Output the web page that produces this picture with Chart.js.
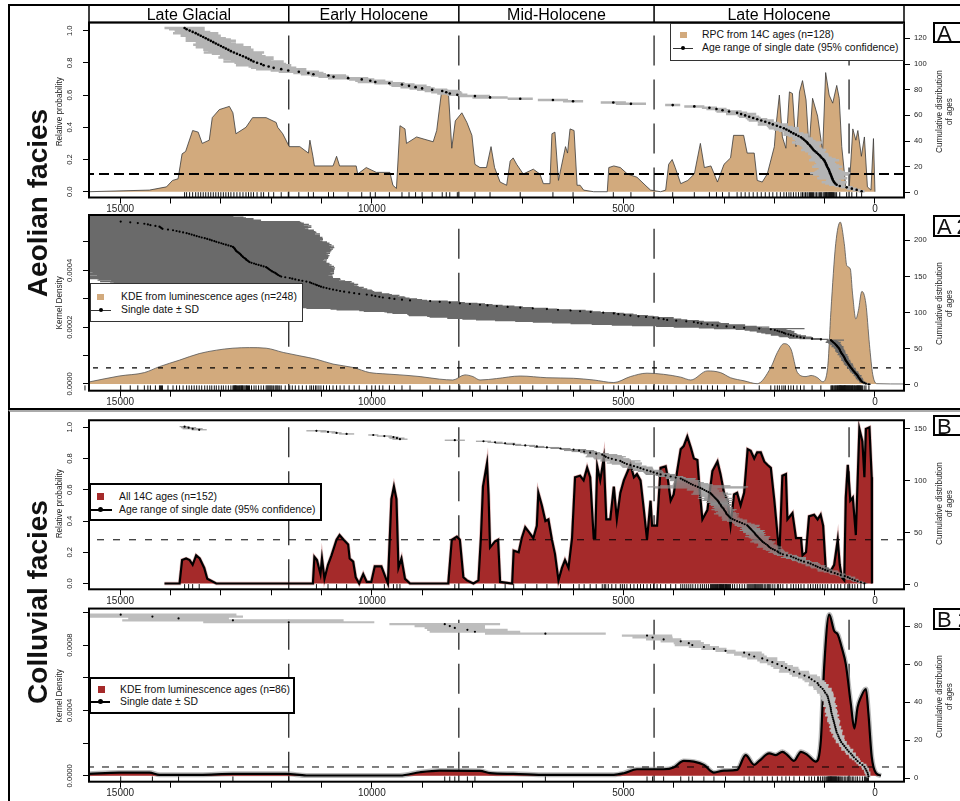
<!DOCTYPE html>
<html>
<head>
<meta charset="utf-8">
<title>Aeolian and colluvial facies - age distributions</title>
<script src="https://cdn.jsdelivr.net/npm/chart.js@4.4.1/dist/chart.umd.min.js"></script>
<style>
  body { margin: 0; background: #fff; }
  #page { position: relative; width: 960px; height: 801px; overflow: hidden;
          font-family: 'Liberation Sans', Arial, Helvetica, sans-serif; color: #111; }
  #page canvas { position: absolute; left: 0; }
  .frame { position: absolute; left: 8px; width: 990px; box-sizing: border-box; border: 2.5px solid #000; }
  .facies { position: absolute; width: 260px; height: 32px; line-height: 32px; text-align: center;
            font-weight: bold; font-size: 28px; transform: rotate(-90deg); white-space: nowrap; }
  .ytitle { position: absolute; width: 140px; text-align: center; font-size: 8.2px; line-height: 9.5px;
            transform: rotate(-90deg); white-space: nowrap; color: #222; }
  .tag { position: absolute; left: 933px; width: 60px; height: 21.5px; box-sizing: border-box;
         border: 2px solid #000; background: #fff; font-size: 22px; line-height: 19.5px; padding-left: 2px; white-space: nowrap; }
  .lgbox { position: absolute; box-sizing: border-box; background: #fff; }
  .lgtext { position: absolute; font-size: 10.4px; line-height: 12px; white-space: nowrap; color: #111; }
  .lgsq { position: absolute; width: 6.5px; height: 6.5px; }
  .lgline { position: absolute; height: 0; }
  .lgdot { position: absolute; border-radius: 50%; background: #000; }
</style>
</head>
<body>
<div id="page">
  <div class="frame" style="top:4px;height:405.5px"></div>
  <div class="frame" style="top:410px;height:420px;border-top:2px solid #aaa"></div>

  <canvas id="panelA" width="960" height="215" style="top:0px"></canvas>
  <canvas id="panelA2" width="960" height="205" style="top:205px"></canvas>
  <canvas id="panelB" width="960" height="200" style="top:408px"></canvas>
  <canvas id="panelB2" width="960" height="201" style="top:600px"></canvas>

  <div class="facies" style="left:-92.5px;top:187.3px">Aeolian facies</div>
  <div class="facies" style="left:-92.5px;top:585.5px">Colluvial facies</div>

  <div class="ytitle" style="left:-10px;top:106.8px">Relative probability</div>
  <div class="ytitle" style="left:-10px;top:298.3px">Kernel Density</div>
  <div class="ytitle" style="left:-10px;top:498.8px">Relative probability</div>
  <div class="ytitle" style="left:-10px;top:691.3px">Kernel Density</div>

  <div class="ytitle" style="left:873.5px;top:102px">Cumulative distribution<br>of ages</div>
  <div class="ytitle" style="left:873.5px;top:293.5px">Cumulative distribution<br>of ages</div>
  <div class="ytitle" style="left:873.5px;top:494px">Cumulative distribution<br>of ages</div>
  <div class="ytitle" style="left:873.5px;top:686.5px">Cumulative distribution<br>of ages</div>

  <div class="tag" style="top:21.7px">A</div>
  <div class="tag" style="top:215px">A 2</div>
  <div class="tag" style="top:414.5px">B</div>
  <div class="tag" style="top:608px">B 2</div>

  <!-- legend A -->
  <div class="lgbox" style="left:670px;top:23px;width:234px;height:37.5px;border:1px solid #333"></div>
  <div class="lgsq" style="left:680px;top:31.8px;background:#D2AA7D"></div>
  <div class="lgtext" style="left:702px;top:29.3px">RPC from 14C ages (n=128)</div>
  <div class="lgline" style="left:673px;top:47.5px;width:20px;border-top:1px solid #333"></div>
  <div class="lgdot" style="left:681px;top:46px;width:4px;height:4px"></div>
  <div class="lgtext" style="left:702px;top:42.3px">Age range of single date (95% confidence)</div>

  <!-- legend A2 -->
  <div class="lgbox" style="left:90px;top:283.3px;width:213px;height:38.5px;border:1px solid #333"></div>
  <div class="lgsq" style="left:97px;top:293.5px;background:#D2AA7D"></div>
  <div class="lgtext" style="left:121px;top:291px">KDE from luminescence ages (n=248)</div>
  <div class="lgline" style="left:91px;top:309.5px;width:20px;border-top:1px solid #333"></div>
  <div class="lgdot" style="left:99px;top:308px;width:4px;height:4px"></div>
  <div class="lgtext" style="left:121px;top:304.3px">Single date ± SD</div>

  <!-- legend B -->
  <div class="lgbox" style="left:89px;top:482.7px;width:233px;height:38.5px;border:2px solid #000"></div>
  <div class="lgsq" style="left:97px;top:493.3px;background:#A52A2A"></div>
  <div class="lgtext" style="left:119px;top:491px">All 14C ages (n=152)</div>
  <div class="lgline" style="left:89px;top:508.5px;width:23px;border-top:2px solid #000"></div>
  <div class="lgdot" style="left:97.5px;top:507px;width:5px;height:5px"></div>
  <div class="lgtext" style="left:119px;top:504.3px">Age range of single date (95% confidence)</div>

  <!-- legend B2 -->
  <div class="lgbox" style="left:89px;top:676.7px;width:206px;height:37.5px;border:2px solid #000"></div>
  <div class="lgsq" style="left:98px;top:686px;background:#A52A2A"></div>
  <div class="lgtext" style="left:120px;top:684.3px">KDE from luminescence ages (n=86)</div>
  <div class="lgline" style="left:89px;top:700.5px;width:21px;border-top:2px solid #000"></div>
  <div class="lgdot" style="left:97.5px;top:699px;width:5px;height:5px"></div>
  <div class="lgtext" style="left:120px;top:696px">Single date ± SD</div>
</div>

<script>
Chart.defaults.font.family = "'Liberation Sans', Arial, Helvetica, sans-serif";
Chart.defaults.color = '#222';

// x axis: years before present, drawn old (left) to young (right)
const xMin = -577, xMax = 15620;

const periodNames = ['Late Glacial', 'Early Holocene', 'Mid-Holocene', 'Late Holocene'];
const periodBounds = [11650, 8270, 4390];
const lateMarker = 515;

// A: summed 14C probability, aeolian
const rpcAge = [15620, 14420, 14080, 13960, 13850, 13770, 13700, 13560, 13450, 13370, 13230, 13170, 13030, 12830,
  12760, 12700, 12500, 12370, 12100, 11900, 11870, 11770, 11640, 11430, 11260, 11230, 11170, 11140, 10770, 10700,
  10640, 10310, 10280, 10110, 9910, 9640, 9580, 9510, 9440, 9340, 9310, 9110, 8780, 8710, 8610, 8480, 8410, 8340,
  8210, 8110, 8010, 7950, 7850, 7720, 7630, 7560, 7450, 7320, 7250, 7190, 7120, 6990, 6790, 6660, 6590, 6460, 6420,
  6360, 6290, 6150, 6110, 6060, 5980, 5920, 5860, 5790, 5590, 5320, 5290, 5190, 5060, 4920, 4730, 4530, 4460, 4260,
  4160, 4100, 4030, 3970, 3860, 3720, 3590, 3470, 3390, 3260, 3130, 3000, 2870, 2810, 2610, 2540, 2400, 2340, 2240,
  2140, 2000, 1970, 1900, 1840, 1770, 1700, 1640, 1570, 1500, 1440, 1370, 1310, 1240, 1140, 1040, 980, 910, 840,
  760, 710, 660, 580, 510, 440, 380, 340, 270, 210, 150, 80, 30, 0];
const rpcProb = [0, 0.01, 0.03, 0.07, 0.08, 0.235, 0.25, 0.38, 0.37, 0.30, 0.32, 0.46, 0.51, 0.53,
  0.49, 0.36, 0.40, 0.46, 0.46, 0.43, 0.40, 0.36, 0.28, 0.28, 0.24, 0.32, 0.22, 0.16, 0.16, 0.22,
  0.16, 0.16, 0.11, 0.15, 0.12, 0.12, 0.04, 0.02, 0.41, 0.39, 0.30, 0.34, 0.31, 0.38, 0.63, 0.63, 0.27, 0.44,
  0.49, 0.43, 0.35, 0.17, 0.15, 0.15, 0.28, 0.15, 0.06, 0.04, 0.19, 0.21, 0.17, 0.11, 0.14, 0.11, 0.05, 0.05, 0.36,
  0.37, 0.07, 0.28, 0.24, 0.39, 0.38, 0.04, 0.04, 0.01, 0, 0, 0.15, 0.16, 0.15, 0.11, 0.09, 0.03, 0.01, 0,
  0.01, 0.17, 0.20, 0.15, 0.05, 0.07, 0.11, 0.30, 0.15, 0.16, 0.06, 0.17, 0.21, 0.35, 0.35, 0.24, 0.24, 0.07, 0.06,
  0.11, 0.28, 0.40, 0.60, 0.34, 0.27, 0.62, 0.61, 0.28, 0.62, 0.69, 0.57, 0.27, 0.58, 0.47, 0.25, 0.74, 0.60, 0.55,
  0.66, 0.58, 0.28, 0.03, 0.03, 0.39, 0.32, 0.38, 0.22, 0.34, 0.03, 0.01, 0.33, 0];

// A: single 14C dates, youngest first, with 95% half range
const aDates = [265, 364, 460, 563, 700, 762, 790, 810, 825, 840, 850, 860, 870, 880, 890, 900, 910, 920, 935, 950,
  960, 970, 980, 995, 1010, 1030, 1060, 1080, 1100, 1130, 1160, 1190, 1220, 1240, 1260, 1280, 1300, 1330, 1350, 1380,
  1410, 1440, 1470, 1520, 1570, 1620, 1670, 1710, 1760, 1810, 1880, 1950, 2030, 2100, 2180, 2260, 2340, 2420, 2500, 2580,
  2660, 2740, 2900, 3030, 3150, 3290, 3590, 4020, 4850, 5200, 6000, 6400, 7050, 7650, 7950, 8300, 8450, 8520, 8600, 8800,
  9000, 9130, 9260, 9400, 9650, 9930, 10030, 10200, 10470, 10760, 10860, 11160, 11260, 11450, 11660, 11800, 11950, 12050, 12150, 12200,
  12280, 12350, 12400, 12450, 12500, 12560, 12620, 12680, 12740, 12800, 12850, 12900, 12950, 13000, 13050, 13100, 13150, 13200, 13250, 13300,
  13350, 13400, 13450, 13500, 13560, 13620, 13680, 13720];
const aErr = [60, 80, 100, 120, 100, 150, 200, 250, 150, 120, 300, 250, 200, 350, 400, 300, 250, 200, 150, 300,
  250, 200, 150, 200, 300, 250, 200, 150, 180, 200, 150, 200, 250, 200, 150, 180, 200, 250, 300, 200,
  180, 200, 150, 200, 250, 200, 150, 200, 250, 300, 250, 200, 300, 200, 150, 250, 200, 150, 200, 150,
  300, 200, 250, 150, 200, 150, 200, 150, 300, 250, 200, 300, 250, 350, 300, 200, 250, 300, 350, 300,
  250, 300, 350, 250, 300, 350, 300, 250, 400, 300, 350, 250, 300, 400, 350, 500, 450, 400, 550, 500,
  450, 600, 400, 500, 550, 450, 400, 500, 600, 450, 500, 400, 550, 450, 500, 400, 350, 500, 450, 400,
  350, 400, 300, 450, 350, 300, 350, 400];

// A2: kernel density of luminescence ages, aeolian (units of 1e-4 per year)
const kdeA2Age = [15620, 15020, 14520, 14220, 13820, 13430, 13090, 12760, 12430, 12100, 11760, 11430, 11100, 10770,
  10370, 10040, 9780, 9440, 9040, 8650, 8390, 8150, 7990, 7850, 7520, 7050, 6520, 5990, 5590, 5190, 4860, 4530, 4200,
  3860, 3660, 3330, 3070, 2870, 2600, 2340, 2070, 1940, 1810, 1670, 1540, 1370, 1270, 1140, 1040, 940, 875, 780, 690,
  610, 560, 490, 445, 380, 330, 260, 180, 110, 45, -40, -577];
const kdeA2Dens = [0.07, 0.28, 0.40, 0.61, 0.84, 1.07, 1.19, 1.26, 1.28, 1.26, 1.11, 0.99, 0.87, 0.70,
  0.58, 0.40, 0.36, 0.32, 0.26, 0.17, 0.14, 0.32, 0.26, 0.14, 0.19, 0.28, 0.22, 0.20, 0.14, 0.05, 0.26, 0.38, 0.34,
  0.24, 0.14, 0.46, 0.40, 0.22, 0.11, 0.01, 0.58, 1.11, 1.42, 1.23, 0.40, 0.26, 0.30, 0.22, 0.08, 0.58, 2.58, 4.94, 5.70,
  4.94, 4.17, 4.05, 3.17, 2.29, 2.58, 3.26, 2.82, 1.40, 0.34, 0.01, 0];

// A2: single luminescence dates, youngest first
const a2Dates = [120, 180, 215, 250, 265, 280, 290, 300, 310, 320, 330, 340, 345,
  360, 370, 385, 400, 410, 420, 435, 445, 455, 465, 480,
  490, 500, 510, 520, 530, 540, 550, 560, 570, 580, 590, 595, 600, 610,
  615, 625, 635, 645, 655, 665, 675, 680, 690, 695, 700, 710,
  720, 730, 745, 755, 770, 780, 795, 810, 830, 845, 860, 875,
  1075, 1250, 1410, 1480, 1550, 1620, 1670, 1720, 1780, 1810, 1850, 1900, 1940,
  1990, 2070, 2300, 2600, 2800, 2950, 3130, 3230, 3330, 3450, 3520, 3600,
  3750, 3950, 4130, 4200, 4300, 4400, 4550, 4700, 4860, 4980, 5100, 5190,
  5400, 5650, 5860, 6050, 6300, 6520, 6800, 7050, 7300, 7515, 7700, 7850,
  8050, 8250, 8450, 8650, 8840, 9240, 9400, 9550, 9650, 9780, 9850, 9930, 10000, 10100,
  10250, 10350, 10450, 10550, 10630, 10700, 10770, 10840,
  10900, 10960, 11010, 11050, 11090, 11120, 11160, 11200, 11230,
  11300, 11380, 11450, 11520, 11580, 11630, 11720, 11800,
  11830, 11860, 11880, 11900, 11920, 11950, 11980, 12000, 12020, 12040, 12060, 12080, 12100,
  12150, 12200, 12250, 12300, 12340, 12390, 12430,
  12450, 12470, 12490, 12500, 12520, 12540, 12560, 12570, 12590, 12600, 12615, 12630,
  12650, 12670, 12690, 12700, 12710, 12720, 12730, 12745, 12760,
  12800, 12850, 12900, 12950, 12990, 13040, 13090,
  13130, 13180, 13220, 13270, 13320, 13380, 13430,
  13480, 13530, 13580, 13630, 13680, 13750, 13820,
  13880, 13950, 14050, 14160, 14180, 14200, 14220,
  14300, 14400, 14450, 14520, 14650, 14800, 14990,
  15700, 15800, 15900, 16000, 16100, 16250, 16400, 16550, 16700,
  16850, 17000, 17200, 17400, 17600, 17800, 18000, 18200, 18500, 18800, 19200, 19600, 20000];
// how far each bar reaches toward younger ages and toward older ages, as drawn
const a2ReachYoung = [40, 50, 40, 60, 50, 40, 60, 50, 70, 40, 60, 50, 80, 60, 50, 70, 60, 80, 50, 60,
  70, 60, 80, 60, 70, 50, 80, 60, 90, 70, 60, 80, 70, 90, 60, 80, 70, 60, 90, 80,
  70, 100, 80, 60, 90, 80, 100, 70, 90, 80, 100, 90, 120, 100, 80, 110, 90, 120, 150, 120,
  100, 260,
  150, 200, 180, 220, 160, 250, 200, 180, 220, 200, 250, 300, 280, 250, 300, 900, 350, 700,
  600, 500, 650, 400, 550, 450, 500, 350, 450, 400,
  350, 300, 400, 250, 300, 350, 250, 300, 200, 250,
  200, 250, 300, 250, 200, 300, 250, 300, 350, 300,
  250, 300, 350, 300, 400, 350, 340, 400, 450, 400,
  450, 500, 450, 550, 500, 600, 550, 650, 600, 650,
  700, 650, 750, 700, 800, 750, 700, 800, 850, 800,
  850, 800, 900, 850, 800, 900, 950, 860, 950, 1000,
  1050, 1000, 1100, 1150, 1100, 1200, 1150, 1250, 1200, 1300,
  1300, 1350, 1300, 1400, 1350, 1450, 1400, 1500, 1450, 1530,
  1550, 1500, 1600, 1550, 1650, 1600, 1700, 1650, 1750, 1700,
  1750, 1800, 1750, 1850, 1800, 1900, 1850, 1950, 1900, 2000,
  1950, 2050, 2000, 2100, 2050, 2150, 2100, 2200, 2150, 2150,
  2250, 2300, 2250, 2400, 2350, 2450, 2500, 2450, 2600, 2550,
  2650, 2700, 2650, 2800, 2750, 2900, 2850, 3000, 2950, 3100,
  3050, 3200, 3150, 3300, 3400, 3560, 3500, 3600, 3550, 3650,
  3600, 3700, 3650, 3750, 3700, 3800, 3750, 3850, 3800, 3900,
  3850, 3950, 3900, 4000, 3950, 4050, 4000, 4100];
const a2ReachOld = [40, 50, 40, 60, 50, 40, 60, 50, 70, 40, 60, 50, 80, 60, 50, 70, 60, 80, 50, 60,
  70, 60, 80, 60, 70, 50, 80, 60, 90, 70, 60, 80, 70, 90, 60, 80, 70, 60, 90, 80,
  70, 100, 80, 60, 90, 80, 100, 70, 90, 80, 100, 90, 120, 100, 80, 110, 90, 120, 150, 120,
  100, 80,
  200, 250, 300, 250, 350, 300, 400, 350,
  400, 450, 500, 450, 550, 600, 700, 900, 900, 1200,
  1400, 1700, 2000, 2300, 2600, 2900, 3200, 3400, 3600, 3800,
  4000, 4200, 4100, 4300, 4200, 4400, 4300, 4200, 4400, 4300,
  4100, 4300, 4200, 4400, 4300, 4500, 4400, 4300, 4500, 4400,
  4300, 4200, 4400, 4100, 4300, 4000, 4200, 3900, 4100, 3800,
  4000, 3700, 3900, 3600, 3800, 3700, 3900, 3600, 3800, 3700,
  3900, 3800, 4000, 3700, 3900, 3800, 4000, 3900, 4100, 3800,
  4000, 3900, 4100, 3800, 4000, 3900, 4100, 4000, 3800, 3900,
  3800, 3600, 3900, 3700, 3800, 3600, 3900, 3700, 3800, 3600,
  3700, 3900, 3600, 3800, 3700, 3900, 3600, 3800, 3700, 3900,
  3800, 3600, 3900, 3700, 3800, 3600, 3900, 3700, 3800, 3600,
  3700, 3900, 3600, 3800, 3700, 3900, 3600, 3800, 3700, 3900,
  3800, 3600, 3900, 3700, 3800, 3600, 3900, 3700, 3800, 3600,
  3700, 3900, 3600, 3800, 3700, 3900, 3600, 3800, 3700, 3900,
  3800, 3600, 3900, 3700, 3800, 3600, 3900, 3700, 3800, 3600,
  3700, 3900, 3600, 3800, 3700, 3900, 3600, 3800, 3700, 3900,
  3800, 3600, 3900, 3700, 3800, 3600, 3900, 3700, 3800, 3600,
  3700, 3900, 3600, 3800, 3700, 3900, 3600, 3800];

// B: summed 14C probability, colluvial
const rpcBAge = [14120, 13820, 13770, 13690, 13620, 13560, 13490, 13420, 13330, 13270, 13090, 11170, 11140, 11090,
  11020, 10990, 10940, 10870, 10800, 10700, 10640, 10560, 10470, 10440, 10370, 10320, 10250, 10170, 10100, 10010,
  9940, 9810, 9740, 9680, 9610, 9560, 9510, 9470, 9410, 9340, 9240, 8480, 8410, 8310, 8250, 8180, 8110, 7980, 7880,
  7830, 7790, 7710, 7680, 7650, 7550, 7490, 7450, 7210, 7180, 7080, 7020, 6950, 6880, 6790, 6720, 6690, 6620, 6550,
  6490, 6420, 6360, 6290, 6220, 6160, 6090, 6020, 5960, 5860, 5790, 5720, 5660, 5590, 5560, 5520, 5460, 5390, 5340,
  5260, 5190, 5130, 5060, 4990, 4860, 4790, 4730, 4660, 4600, 4530, 4460, 4430, 4330, 4260, 4160, 4130, 4060, 4000,
  3930, 3860, 3800, 3730, 3660, 3600, 3530, 3480, 3430, 3330, 3230, 3130, 3070, 3000, 2930, 2870, 2800, 2740, 2670,
  2600, 2530, 2470, 2400, 2340, 2270, 2200, 2140, 2070, 2000, 1900, 1840, 1770, 1740, 1640, 1570, 1470, 1440, 1370,
  1310, 1210, 1140, 1080, 1030, 980, 880, 810, 740, 700, 660, 610, 580, 540, 490, 440, 380, 310, 250, 210, 180, 110,
  65, 60];
const rpcBProb = [0, 0, 0.15, 0.16, 0.15, 0.12, 0.18, 0.16, 0.10, 0.03, 0, 0, 0.17, 0.15,
  0.06, 0.16, 0.03, 0.12, 0.18, 0.28, 0.31, 0.28, 0.25, 0.16, 0.14, 0.04, 0, 0.06, 0.01, 0.01,
  0.11, 0.11, 0.05, 0, 0.54, 0.62, 0.54, 0.10, 0.16, 0.03, 0, 0, 0.28, 0.30, 0.28, 0.04, 0.02, 0, 0.02,
  0.30, 0.62, 0.77, 0.57, 0.23, 0.27, 0.28, 0.01, 0, 0.21, 0.20, 0.29, 0.36, 0.33, 0.29, 0.37, 0.58, 0.50, 0.40,
  0.41, 0.28, 0.19, 0.02, 0.10, 0.15, 0.10, 0.29, 0.68, 0.69, 0.66, 0.74, 0.68, 0.29, 0.29, 0.75, 0.66, 0.80, 0.41,
  0.41, 0.62, 0.41, 0.58, 0.66, 0.76, 0.68, 0.70, 0.66, 0.49, 0.28, 0.53, 0.37, 0.37, 0.74, 0.75, 0.70, 0.53, 0.57,
  0.72, 0.86, 0.88, 0.94, 0.87, 0.80, 0.79, 0.58, 0.41, 0.47, 0.72, 0.78, 0.70, 0.58, 0.53, 0.37, 0.57, 0.58, 0.50,
  0.58, 0.86, 0.85, 0.80, 0.84, 0.84, 0.78, 0.76, 0.74, 0.53, 0.18, 0.69, 0.70, 0.41, 0.45, 0.29, 0.29, 0.18, 0.20,
  0.43, 0.44, 0.41, 0.44, 0.37, 0.10, 0.08, 0.12, 0.28, 0.12, 0.04, 0.02, 0.55, 0.76, 0.53, 0.55, 0.31, 0.99, 0.91, 0.68, 0.99, 1.0,
  0.68, 0];

// B: single 14C dates, youngest first, with 95% half range
const bDates = [210, 280, 345, 400, 450, 500, 540, 600, 680, 740, 800, 870, 940,
  990, 1040, 1090, 1140, 1180, 1230, 1280, 1330, 1410, 1470, 1520, 1570, 1620, 1670,
  1750, 1830, 1880, 1920, 1940, 1990, 2030, 2070, 2100, 2120, 2140, 2170, 2200, 2230, 2250, 2270,
  2290, 2310, 2330, 2350, 2370, 2385, 2400, 2420, 2440, 2460, 2480, 2500, 2520, 2540,
  2590, 2640, 2690, 2740, 2790, 2830, 2870, 2890, 2910, 2930, 2950, 2960, 2970, 2985, 3000,
  3010, 3030, 3050, 3060, 3070, 3090, 3100, 3115, 3130, 3150, 3170, 3190, 3210, 3230, 3250, 3270,
  3310, 3350, 3390, 3430, 3470, 3520, 3570, 3620, 3660, 3700, 3740, 3780, 3820, 3860,
  3960, 4060, 4160, 4260, 4330, 4400, 4460, 4530, 4600, 4660, 4720, 4790, 4860, 4930,
  4980, 5020, 5060, 5150, 5230, 5300, 5350, 5380, 5420, 5540, 5660, 5780, 5880, 5990,
  6250, 6520, 6720, 6950, 7180, 7350, 7550, 7780, 8350, 9440, 9500, 9570, 9750, 9970,
  10500, 10700, 10870, 11100, 13430, 13560, 13640, 13720];
const bErr = [60, 80, 100, 80, 120, 100, 150, 120, 100, 150, 120, 150, 200, 150, 120, 180, 150, 200, 150, 180,
  200, 150, 180, 150, 200, 250, 150, 200, 180, 150, 200, 150, 180, 200, 150, 250, 200, 180, 150, 200,
  250, 200, 150, 180, 200, 250, 150, 200, 180, 220, 200, 250, 180, 200, 150, 220, 250, 200, 180, 150,
  200, 250, 200, 180, 150, 200, 180, 250, 200, 150, 200, 250, 180, 200, 150, 200, 220, 180, 250, 200,
  300, 250, 350, 200, 300, 250, 400, 350, 300, 250, 350, 300, 900, 1000, 700, 400, 350, 300, 250, 300,
  250, 300, 200, 250, 200, 300, 250, 200, 250, 300, 200, 250, 300, 250, 200, 300, 350, 250, 400, 300,
  350, 300, 400, 350, 300, 250, 200, 250, 300, 250, 200, 250, 150, 200, 150, 200, 150, 150, 200, 150,
  150, 100, 150, 100, 150, 100, 150, 200, 150, 200, 150, 100];

// B2: kernel density of luminescence ages, colluvial (units of 1e-4 per year)
const kdeB2Age = [15620, 15020, 14420, 14220, 13420, 12760, 11700, 11300, 9440, 9040, 8650, 7850, 7650, 7190,
  6520, 5190, 4990, 4730, 4200, 4000, 3800, 3600, 3400, 3200, 3000, 2740, 2570, 2400, 2300, 2100, 1970, 1840, 1740,
  1610, 1470, 1340, 1175, 1075, 1010, 910, 810, 740, 660, 580, 480, 410, 345, 280, 180, 130, 65, -20, -120];
const kdeB2Dens = [0.12, 0.20, 0.20, 0.06, 0.06, 0.12, 0.12, 0.02, 0.02, 0.22, 0.32, 0.30, 0.16, 0.12,
  0.06, 0.06, 0.16, 0.40, 0.40, 0.51, 0.91, 0.87, 0.67, 0.20, 0.32, 0.36, 1.27, 0.67, 0.91, 1.37, 1.27, 1.47, 1.27,
  0.91, 1.47, 1.27, 0.87, 2.18, 6.63, 9.86, 8.85, 8.65, 7.84, 6.83, 4.40, 2.89, 4.20, 4.80, 5.31, 3.80, 1.17, 0.16, 0.02];

// B2: single luminescence dates, youngest first, with SD
const b2Dates = [130, 140, 150, 170, 190, 210, 250, 300, 345, 380, 420, 450, 480, 520, 550,
  580, 610, 640, 670, 690, 710, 725, 740, 760, 770, 780, 790, 800, 810, 820, 830, 840, 850, 860,
  870, 875, 880, 890, 900, 910, 920, 930, 940, 960, 990, 1010, 1040, 1080, 1120, 1140,
  1200, 1260, 1310, 1400, 1500, 1610, 1700, 1770, 1850, 1940, 2040, 2140, 2240, 2400, 2500, 2600,
  2970, 3200, 3400, 3630, 3700, 3860, 4200, 4420, 4530, 6550, 7950, 8100, 8350, 8450, 8550,
  11650, 12760, 13840, 14360, 14990];
const b2Sd = [40, 50, 60, 50, 70, 60, 80, 70, 60, 80, 90, 70, 100, 80, 120, 90, 100, 80, 110, 90,
  100, 120, 90, 110, 130, 100, 120, 90, 110, 130, 120, 100, 140, 110, 130, 120, 100, 140, 120, 110,
  130, 150, 120, 140, 160, 150, 180, 150, 200, 170, 200, 180, 220, 250, 200, 300, 200, 250, 220, 200,
  250, 200, 300, 250, 300, 350, 200, 250, 300, 350, 300, 400, 350, 400, 500, 1200, 900, 800, 600, 700,
  1100, 1700, 2200, 1000, 1800, 2300];

function pairs(xs, ys) {
  const out = [];
  const n = Math.min(xs.length, ys.length);
  for (let i = 0; i < n; i++) out.push({x: xs[i], y: ys[i]});
  return out;
}

// one horizontal segment per date at its rank, gaps between them
function rangeBars(ages, reachYoung, reachOld) {
  const out = [];
  ages.forEach((a, i) => {
    out.push({x: a - (reachYoung[i] || 0), y: i + 1}, {x: a + (reachOld[i] || 0), y: i + 1}, {x: a, y: null});
  });
  return out;
}

function boundaryLines(bounds, lo, hi) {
  const out = [];
  bounds.forEach(b => out.push({x: b, y: lo}, {x: b, y: hi}, {x: b, y: null}));
  return out;
}

const framePlugin = {
  id: 'frame',
  afterDraw(chart) {
    const {ctx, chartArea: a} = chart;
    ctx.save();
    ctx.strokeStyle = '#000';
    ctx.lineWidth = 2;
    ctx.strokeRect(a.left, a.top, a.right - a.left, a.bottom - a.top);
    ctx.restore();
  }
};

const periodHeader = {
  id: 'periodHeader',
  afterDraw(chart) {
    const {ctx, chartArea: a} = chart;
    const x = chart.scales.x;
    const top = 5;
    const edges = [a.left, ...periodBounds.map(v => x.getPixelForValue(v)), a.right];
    ctx.save();
    ctx.strokeStyle = '#000';
    ctx.lineWidth = 1.5;
    ctx.strokeRect(a.left, top, a.right - a.left, a.top - top);
    ctx.beginPath();
    edges.slice(1, -1).forEach(px => { ctx.moveTo(px, top); ctx.lineTo(px, a.top); });
    ctx.stroke();
    ctx.fillStyle = '#000';
    ctx.font = "16px 'Liberation Sans', Arial, sans-serif";
    ctx.textAlign = 'center';
    ctx.textBaseline = 'alphabetic';
    periodNames.forEach((name, i) => ctx.fillText(name, (edges[i] + edges[i + 1]) / 2, 19.5));
    ctx.restore();
  }
};

function makePanel(id, p) {
  const smooth = p.smooth ? 'monotone' : 'default';
  const datasets = [
    { data: p.dates.map((a, i) => ({x: a, y: i + 1})), yAxisID: 'y2', showLine: false,
      pointRadius: p.dotR, pointBackgroundColor: '#000', pointBorderWidth: 0, order: 0 },
    { data: rangeBars(p.dates, p.reachYoung, p.reachOld), yAxisID: 'y2', borderColor: p.barColor, borderWidth: p.barW,
      pointRadius: 0, spanGaps: false, fill: false, order: 1 },
    { data: p.dates.map(a => ({x: a, y: p.rugY})), yAxisID: 'y', showLine: false, pointStyle: 'line',
      pointRotation: 90, pointRadius: 2.6, pointBorderColor: '#111', borderColor: '#111', pointBorderWidth: 1, order: 2 },
    { data: [{x: xMin, y: p.level}, {x: xMax, y: p.level}], yAxisID: 'y', borderColor: '#000',
      borderWidth: p.levelW, borderDash: p.levelDash, pointRadius: 0, fill: false, order: 2 },
    { data: pairs(p.curveX, p.curveY), yAxisID: 'y', fill: 'origin', backgroundColor: p.fill,
      borderColor: p.edge, borderWidth: p.edgeW, pointRadius: 0, cubicInterpolationMode: smooth, order: 3 },
    { data: boundaryLines(p.bounds, p.y[0], p.y[1]), yAxisID: 'y', borderColor: '#111', borderWidth: 1.2,
      borderDash: [30, 14], pointRadius: 0, fill: false, order: 5 }
  ];
  if (p.halo) {
    datasets.push({ data: pairs(p.curveX, p.curveY), yAxisID: 'y', fill: false, borderColor: p.halo,
      borderWidth: p.haloW, pointRadius: 0, cubicInterpolationMode: smooth, order: 4 });
  }
  const tickGrid = { display: true, drawOnChartArea: false, drawTicks: true, tickLength: 6,
                     tickColor: '#000', tickWidth: 1, color: '#000' };
  return new Chart(document.getElementById(id), {
    type: 'line',
    data: { datasets },
    plugins: p.header ? [framePlugin, periodHeader] : [framePlugin],
    options: {
      responsive: false,
      animation: false,
      events: [],
      layout: { padding: { top: p.padTop, left: 0, right: 0, bottom: 0 } },
      plugins: { legend: { display: false }, tooltip: { enabled: false } },
      scales: {
        x: {
          type: 'linear', reverse: true,
          // fix the range after tick generation so ticks stay on round thousands
          afterDataLimits: s => { s.min = xMin; s.max = xMax; },
          afterBuildTicks: s => {
            s.min = xMin; s.max = xMax;
            s.ticks = s.ticks.filter(t => t.value >= xMin && t.value <= xMax);
          },
          grid: tickGrid, border: { display: false },
          ticks: { stepSize: 1000, autoSkip: false, maxRotation: 0, padding: 0,
                   color: '#222', font: { size: 10 },
                   callback: v => (Math.round(v) % 5000 === 0 ? String(Math.round(v)) : '') },
          afterFit: s => { s.height = p.xAxisH; }
        },
        y: {
          position: 'left', min: p.y[0], max: p.y[1],
          grid: tickGrid, border: { display: false },
          ticks: { stepSize: p.yStep, includeBounds: false, minRotation: 90, maxRotation: 90,
                   crossAlign: 'center', padding: p.yPad, color: '#222', font: { size: 7.6 },
                   callback: p.yLabel },
          afterFit: s => { s.width = 89; }
        },
        y2: {
          position: 'right', min: p.y2[0], max: p.y2[1],
          grid: tickGrid, border: { display: false },
          ticks: { stepSize: p.y2Step, includeBounds: false, padding: 4, color: '#222', font: { size: 7.6 } },
          afterFit: s => { s.width = 56; }
        }
      }
    }
  });
}

const probLabel = v => v.toFixed(1);
const allBounds = [...periodBounds, lateMarker];

makePanel('panelA', {
  header: true, padTop: 22.5, xAxisH: 17.5,
  y: [-0.036, 1.051], yStep: 0.2, yPad: 7.7, yLabel: probLabel,
  y2: [-3.9, 132.3], y2Step: 20,
  curveX: rpcAge, curveY: rpcProb, fill: '#D2AA7D', edge: '#3a3a3a', edgeW: 0.8, smooth: false,
  dates: aDates, reachYoung: aErr, reachOld: aErr, barColor: '#b4b4b4', barW: 2.5, dotR: 1.3,
  rugY: -0.019, level: 0.11, levelW: 2, levelDash: [10, 5], bounds: allBounds
});

makePanel('panelA2', {
  padTop: 10, xAxisH: 19.3,
  y: [-0.237, 5.95], yStep: 1, yPad: 1.4,
  yLabel: v => (Math.round(v) % 2 === 0 ? (v / 10000).toFixed(4) : ''),
  y2: [-7.9, 235.1], y2Step: 50,
  curveX: kdeA2Age, curveY: kdeA2Dens, fill: '#D2AA7D', edge: '#555', edgeW: 0.8, smooth: true,
  dates: a2Dates, reachYoung: a2ReachYoung, reachOld: a2ReachOld, barColor: '#6a6a6a', barW: 1.3, dotR: 1.1,
  rugY: -0.142, level: 0.57, levelW: 1.2, levelDash: [5, 8], bounds: periodBounds
});

makePanel('panelB', {
  padTop: 6.5, xAxisH: 18.7,
  y: [-0.037, 1.045], yStep: 0.2, yPad: 7.7, yLabel: probLabel,
  y2: [-4.66, 158.2], y2Step: 50,
  curveX: rpcBAge, curveY: rpcBProb, fill: '#A52A2A', edge: '#000', edgeW: 2.2, smooth: false,
  halo: 'rgba(165,42,42,0.35)', haloW: 3.5,
  dates: bDates, reachYoung: bErr, reachOld: bErr, barColor: '#8c8c8c', barW: 1, dotR: 1.1,
  rugY: -0.0203, level: 0.28, levelW: 1, levelDash: [7, 9], bounds: allBounds
});

makePanel('panelB2', {
  padTop: 7.3, xAxisH: 19.3,
  y: [-0.36, 10.23], yStep: 2, yPad: 1.4,
  yLabel: v => (Math.round(v) % 4 === 0 ? (v / 10000).toFixed(4) : ''),
  y2: [-1.8, 89.2], y2Step: 20,
  curveX: kdeB2Age, curveY: kdeB2Dens, fill: '#A52A2A', edge: '#000', edgeW: 2.2, smooth: true,
  halo: 'rgba(140,140,140,0.6)', haloW: 5,
  dates: b2Dates, reachYoung: b2Sd, reachOld: b2Sd, barColor: '#bdbdbd', barW: 2.2, dotR: 1.1,
  rugY: -0.196, level: 0.54, levelW: 1, levelDash: [7, 8], bounds: allBounds
});
</script>
</body>
</html>
